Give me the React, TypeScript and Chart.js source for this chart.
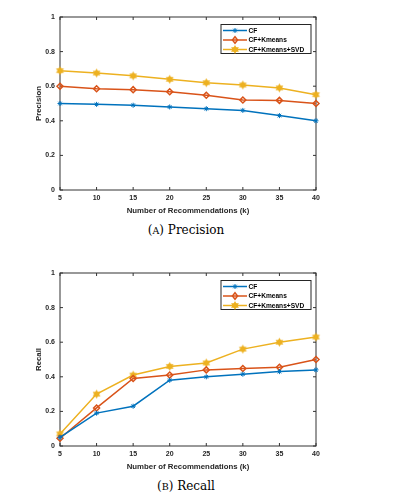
import { useEffect, useRef } from "react";
import { Chart, registerables } from "chart.js";
Chart.register(...registerables);

const ks = [5, 10, 15, 20, 25, 30, 35, 40];
const yTicks = [0, 0.2, 0.4, 0.6, 0.8, 1];
const seriesNames = ["CF", "CF+Kmeans", "CF+Kmeans+SVD"];
const seriesColors = ["#0072BD", "#D95319", "#EDB120"];

const precisionCF = [0.5, 0.495, 0.49, 0.48, 0.47, 0.46, 0.43, 0.4];
const precisionKmeans = [0.6, 0.585, 0.58, 0.568, 0.548, 0.52, 0.518, 0.5];
const precisionSVD = [0.69, 0.676, 0.66, 0.64, 0.62, 0.607, 0.59, 0.551];

const recallCF = [0.05, 0.19, 0.23, 0.38, 0.4, 0.415, 0.43, 0.44];
const recallKmeans = [0.045, 0.22, 0.39, 0.41, 0.44, 0.448, 0.455, 0.5];
const recallSVD = [0.07, 0.3, 0.41, 0.46, 0.48, 0.56, 0.6, 0.63];

const FONT = "'Liberation Sans', Arial, sans-serif";

function drawHexagram(ctx: CanvasRenderingContext2D, cx: number, cy: number, r: number, color: string) {
  ctx.save();
  ctx.fillStyle = color;
  for (let t = 0; t < 2; t++) {
    ctx.beginPath();
    for (let i = 0; i < 3; i++) {
      const ang = -Math.PI / 2 + t * Math.PI + (i * 2 * Math.PI) / 3;
      const x = cx + r * Math.cos(ang);
      const y = cy + r * Math.sin(ang);
      if (i === 0) ctx.moveTo(x, y);
      else ctx.lineTo(x, y);
    }
    ctx.closePath();
    ctx.fill();
  }
  ctx.restore();
}

function drawDiamond(ctx: CanvasRenderingContext2D, cx: number, cy: number, r: number, color: string) {
  ctx.save();
  ctx.strokeStyle = color;
  ctx.lineWidth = 1.5;
  ctx.beginPath();
  ctx.moveTo(cx, cy - r);
  ctx.lineTo(cx + r * 0.8, cy);
  ctx.lineTo(cx, cy + r);
  ctx.lineTo(cx - r * 0.8, cy);
  ctx.closePath();
  ctx.stroke();
  ctx.restore();
}

function drawAsterisk(ctx: CanvasRenderingContext2D, cx: number, cy: number, r: number, color: string) {
  ctx.save();
  ctx.strokeStyle = color;
  ctx.lineWidth = 1;
  ctx.beginPath();
  for (let i = 0; i < 4; i++) {
    const ang = (i * Math.PI) / 4;
    ctx.moveTo(cx - r * Math.cos(ang), cy - r * Math.sin(ang));
    ctx.lineTo(cx + r * Math.cos(ang), cy + r * Math.sin(ang));
  }
  ctx.stroke();
  ctx.restore();
}

function makeHexImage(color: string, r: number) {
  const c = document.createElement("canvas");
  const s = Math.ceil(r * 2 + 2);
  c.width = s;
  c.height = s;
  const ctx = c.getContext("2d")!;
  drawHexagram(ctx, s / 2, s / 2, r, color);
  return c;
}

const framePlugin = {
  id: "frame",
  beforeDatasetsDraw(chart: any) {
    const { ctx, chartArea: a, scales } = chart;
    ctx.save();
    ctx.strokeStyle = "#333333";
    ctx.lineWidth = 1;
    ctx.strokeRect(a.left, a.top, a.right - a.left, a.bottom - a.top);
    const tl = 3;
    ctx.beginPath();
    ks.forEach((k) => {
      const x = scales.x.getPixelForValue(k);
      ctx.moveTo(x, a.bottom);
      ctx.lineTo(x, a.bottom - tl);
      ctx.moveTo(x, a.top);
      ctx.lineTo(x, a.top + tl);
    });
    yTicks.forEach((v) => {
      const y = scales.y.getPixelForValue(v);
      ctx.moveTo(a.left, y);
      ctx.lineTo(a.left + tl, y);
      ctx.moveTo(a.right, y);
      ctx.lineTo(a.right - tl, y);
    });
    ctx.stroke();
    ctx.restore();
  },
};

const legendPlugin = {
  id: "matlabLegend",
  afterDatasetsDraw(chart: any) {
    const { ctx, chartArea: a } = chart;
    const w = 90;
    const h = 29;
    const left = a.right - 5 - w;
    const top = a.top + 7.5;
    ctx.save();
    ctx.fillStyle = "#ffffff";
    ctx.fillRect(left, top, w, h);
    ctx.strokeStyle = "#262626";
    ctx.lineWidth = 1;
    ctx.strokeRect(left, top, w, h);
    const rows = [top + 6, top + 15.5, top + 25];
    ctx.font = `bold 6.6px ${FONT}`;
    ctx.textBaseline = "middle";
    ctx.textAlign = "left";
    rows.forEach((y, i) => {
      const col = seriesColors[i];
      ctx.strokeStyle = col;
      ctx.lineWidth = 1.5;
      ctx.beginPath();
      ctx.moveTo(left + 2, y);
      ctx.lineTo(left + 26, y);
      ctx.stroke();
      const mx = left + 14;
      if (i === 0) drawAsterisk(ctx, mx, y, 2.5, col);
      else if (i === 1) drawDiamond(ctx, mx, y, 3.2, col);
      else drawHexagram(ctx, mx, y, 4.5, col);
      ctx.fillStyle = "#000000";
      ctx.fillText(seriesNames[i], left + 27.5, y + 0.5);
    });
    ctx.restore();
  },
};

function LineChart({ top, yTitle, values }: { top: number; yTitle: string; values: number[][] }) {
  const ref = useRef<HTMLCanvasElement>(null);
  useEffect(() => {
    const hex = makeHexImage(seriesColors[2], 4.5);
    const styles: any[] = ["star", "rectRot", hex];
    const radii = [2.5, 3, 4.5];
    const chart = new Chart(ref.current!, {
      type: "line",
      data: {
        datasets: values.map((vals, i) => ({
          label: seriesNames[i],
          data: ks.map((k, j) => ({ x: k, y: vals[j] })),
          borderColor: seriesColors[i],
          backgroundColor: i === 1 ? "rgba(0,0,0,0)" : seriesColors[i],
          borderWidth: 1.5,
          pointStyle: styles[i],
          pointRadius: radii[i],
          pointBorderWidth: i === 0 ? 1 : 1.5,
          pointBorderColor: seriesColors[i],
          pointBackgroundColor: i === 1 ? "rgba(0,0,0,0)" : seriesColors[i],
          tension: 0,
          clip: false,
        })),
      },
      options: {
        responsive: false,
        animation: false,
        events: [],
        layout: { padding: { left: 30, right: 83, top: 17, bottom: 0 } },
        plugins: { legend: { display: false }, tooltip: { enabled: false } },
        scales: {
          x: {
            type: "linear",
            min: 5,
            max: 40,
            grid: { display: false, drawTicks: false },
            border: { display: false },
            ticks: {
              stepSize: 5,
              padding: 4,
              color: "#262626",
              font: { family: FONT, size: 7, weight: "bold" },
              maxRotation: 0,
            },
            title: {
              display: true,
              text: "Number of Recommendations (k)",
              color: "#262626",
              font: { family: FONT, size: 7.8, weight: "bold" },
              padding: { top: 0, bottom: 4 },
            },
            afterFit: (s: any) => {
              s.height = 30;
            },
          },
          y: {
            type: "linear",
            min: 0,
            max: 1,
            grid: { display: false, drawTicks: false },
            border: { display: false },
            ticks: {
              stepSize: 0.2,
              padding: 5,
              color: "#262626",
              font: { family: FONT, size: 7, weight: "bold" },
              callback: (v: any) => String(Math.round(Number(v) * 10) / 10),
            },
            title: {
              display: true,
              text: yTitle,
              color: "#262626",
              font: { family: FONT, size: 7.8, weight: "bold" },
              padding: { top: 4, bottom: 0 },
            },
            afterFit: (s: any) => {
              s.width = 30;
            },
          },
        },
      },
      plugins: [framePlugin, legendPlugin],
    });
    return () => chart.destroy();
  }, []);
  return (
    <canvas
      ref={ref}
      width={399}
      height={220}
      style={{ position: "absolute", left: 0, top, width: 399, height: 220 }}
    />
  );
}

function Caption({ y, letter, text }: { y: number; letter: string; text: string }) {
  return (
    <div
      style={{
        position: "absolute",
        left: 0,
        width: 372,
        top: y - 9,
        height: 18,
        lineHeight: "18px",
        textAlign: "center",
        fontFamily: "'DejaVu Serif', serif",
        fontSize: 12,
        color: "#000",
        whiteSpace: "nowrap",
      }}
    >
      (<span style={{ fontSize: 9.5 }}>{letter}</span>) {text}
    </div>
  );
}

export default function App() {
  return (
    <div style={{ position: "absolute", left: 0, top: 0, width: 399, height: 504, background: "#fff" }}>
      <LineChart top={0} yTitle="Precision" values={[precisionCF, precisionKmeans, precisionSVD]} />
      <Caption y={230} letter="A" text="Precision" />
      <LineChart top={256} yTitle="Recall" values={[recallCF, recallKmeans, recallSVD]} />
      <Caption y={486} letter="B" text="Recall" />
    </div>
  );
}
